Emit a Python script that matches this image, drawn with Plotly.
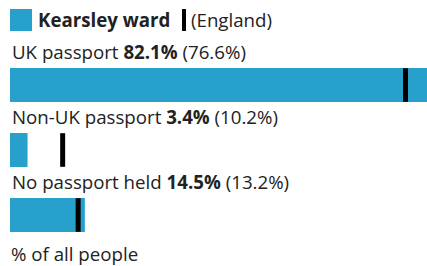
import plotly.graph_objects as go

categories = ["UK passport", "Non-UK passport", "No passport held"]
ward_values = [82.1, 3.4, 14.5]
england_values = [76.6, 10.2, 13.2]
ward_name = "Kearsley ward"
compare_name = "England"
axis_label = "% of all people"

BLUE = "#27a0cc"
TEXT = "#222222"
FONT = "Open Sans"
FS = 18.7

W, H = 427, 266
ML, MR, MT, MB = 10, 0, 60, 26
PW, PH = W - ML - MR, H - MT - MB

def px(x):  # x in window pixels
    return (x - ML) / PW

def py(y):  # y in window pixels
    return (H - MB - y) / PH

fig = go.Figure()
fig.add_trace(go.Bar(
    y=categories, x=ward_values, orientation="h",
    marker=dict(color=BLUE, line=dict(width=0)),
    width=34 / 65, hoverinfo="skip", showlegend=False,
))
fig.add_trace(go.Scatter(
    y=categories, x=england_values, mode="markers",
    marker=dict(symbol="line-ns", size=24, line=dict(width=5, color="#000000"), color="#000000"),
    hoverinfo="skip", showlegend=False, cliponaxis=False,
))

annotations = []
for c, v, e in zip(categories, ward_values, england_values):
    annotations.append(dict(
        x=0, xref="paper", y=c, yref="y", yshift=34,
        xanchor="left", yanchor="middle", showarrow=False,
        text=f"{c} <b>{v}%</b> ({e}%)",
        font=dict(family=FONT, size=FS, color=TEXT),
    ))

annotations += [
    dict(x=px(36), xref="paper", y=py(20), yref="paper", xanchor="left", yanchor="middle",
         showarrow=False, text=f"<b>{ward_name}</b>", font=dict(family=FONT, size=FS, color=TEXT)),
    dict(x=px(189), xref="paper", y=py(20), yref="paper", xanchor="left", yanchor="middle",
         showarrow=False, text=f"({compare_name})", font=dict(family=FONT, size=FS, color=TEXT)),
    dict(x=px(9), xref="paper", y=py(253), yref="paper", xanchor="left", yanchor="middle",
         showarrow=False, text=axis_label, font=dict(family=FONT, size=FS, color=TEXT)),
]

shapes = [
    dict(type="rect", xref="paper", yref="paper", x0=px(10), x1=px(32), y0=py(31), y1=py(9),
         fillcolor=BLUE, line=dict(width=0)),
    dict(type="rect", xref="paper", yref="paper", x0=px(182), x1=px(186), y0=py(31), y1=py(9),
         fillcolor="#000000", line=dict(width=0)),
]

top_off = (85 - MT) / 65
fig.update_layout(
    width=W, height=H,
    margin=dict(l=ML, r=MR, t=MT, b=MB, pad=0),
    paper_bgcolor="white", plot_bgcolor="white",
    xaxis=dict(range=[0, PW / 5.163], visible=False, fixedrange=True),
    yaxis=dict(range=[PH / 65 - top_off, -top_off], visible=False, fixedrange=True,
               categoryorder="array", categoryarray=categories),
    annotations=annotations, shapes=shapes,
    font=dict(family=FONT, color=TEXT),
    hovermode=False,
)
fig.write_html(
    "out.html",
    config={"displayModeBar": False, "staticPlot": True},
    post_script="document.body.style.margin='0';document.body.style.overflow='hidden';",
)
